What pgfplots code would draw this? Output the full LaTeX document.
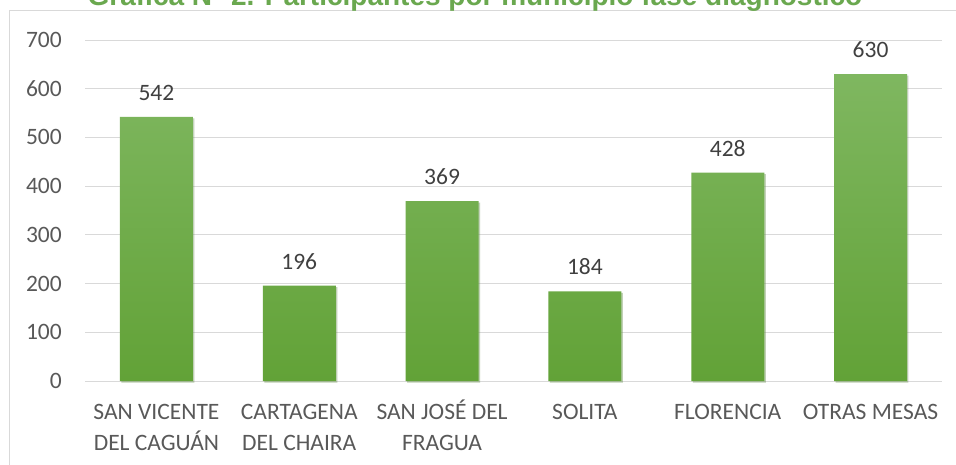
\documentclass[border=0pt]{standalone}
\usepackage{pgfplots}
\pgfplotsset{compat=1.18}
\usepackage{fontspec}
\setmainfont{Carlito}
\newfontfamily\titlefont{Liberation Sans}
\usetikzlibrary{shadows}
\definecolor{gridc}{RGB}{217,217,217}
\definecolor{labc}{RGB}{89,89,89}
\definecolor{valc}{RGB}{64,64,64}
\definecolor{bartop}{RGB}{127,183,96}
\definecolor{barbot}{RGB}{98,162,55}
\definecolor{titc}{RGB}{106,168,79}
\newcommand\xs{\rule{0pt}{22pt}}
\begin{document}
\begin{tikzpicture}
\useasboundingbox (0,0) rectangle (956pt,464pt);
\clip (0,0) rectangle (956pt,464pt);
\fill[white] (0,0) rectangle (956pt,464pt);
\draw[gridc, line width=1pt] (9pt,-10pt) -- (9pt,453pt) -- (970pt,453pt);
\node[anchor=base, inner sep=0, text=titc, font=\titlefont\bfseries\fontsize{28}{32}\selectfont] at (475pt,458pt) {Gráfica N° 2. Participantes por municipio fase diagnóstico};
\begin{axis}[
  at={(85pt,83pt)}, anchor=south west,
  scale only axis, width=857pt, height=341pt,
  xmin=-0.5, xmax=5.5, ymin=0, ymax=700,
  ytick={0,100,...,700},
  xtick=data,
  xticklabels={{\xs SAN VICENTE\\DEL CAGUÁN},{\xs CARTAGENA\\DEL CHAIRA},{\xs SAN JOSÉ DEL\\FRAGUA},{\xs SOLITA},{\xs FLORENCIA},{\xs OTRAS MESAS}},
  axis line style={draw=none},
  major tick length=0pt,
  ymajorgrids, grid style={gridc, line width=1pt},
  tick label style={font=\fontsize{23.5}{31}\selectfont, text=labc},
  /pgf/number format/assume math mode=true,
  yticklabel style={anchor=east, inner sep=0pt, xshift=-23pt},
  xticklabel style={align=center, anchor=north, inner sep=0pt, yshift=-16pt},
  nodes near coords,
  every node near coord/.append style={font=\fontsize{23.5}{28}\selectfont, text=valc, anchor=south, inner sep=0pt, yshift=16pt},
  clip=false,
]
\addplot[ybar, bar width=73pt, draw=none, top color=bartop, bottom color=barbot,
  drop shadow={opacity=0.25, shadow xshift=1.5pt, shadow yshift=-1.5pt}]
  coordinates {(0,542) (1,196) (2,369) (3,184) (4,428) (5,630)};
\end{axis}
\end{tikzpicture}
\end{document}
